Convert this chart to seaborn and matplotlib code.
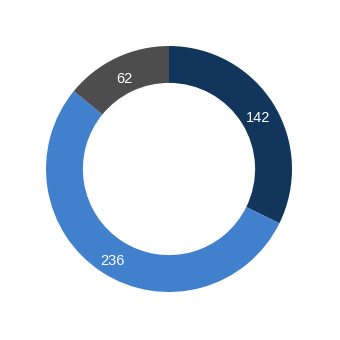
import matplotlib
matplotlib.use("Agg")
import matplotlib.pyplot as plt
import seaborn as sns

categories = ["A", "B", "C"]
values = [142, 236, 62]
colors = ["#12355b", "#4080cc", "#4d4d4d"]

sns.set_theme(style="white")
plt.rcParams['font.family'] = ['Liberation Sans', 'DejaVu Sans']

fig = plt.figure(figsize=(3.4, 3.4), dpi=100)
ax = fig.add_axes([46/340, (171-123)/340, 246/340, 246/340])
wedges, texts = ax.pie(values, colors=colors, startangle=90, counterclock=False,
                       radius=1.0, labels=[str(v) for v in values], labeldistance=0.85,
                       wedgeprops=dict(width=0.3, edgecolor="none", linewidth=0),
                       textprops=dict(color="white", fontsize=10.5))
for t in texts:
    t.set_ha("center")
    t.set_va("center")
    x, y = t.get_position()
    t.set_position((x, y - 4/123))
ax.set_xlim(-1, 1)
ax.set_ylim(-1, 1)
ax.set_aspect("equal")
ax.axis("off")
fig.savefig("out.png", dpi=100, facecolor="white")
